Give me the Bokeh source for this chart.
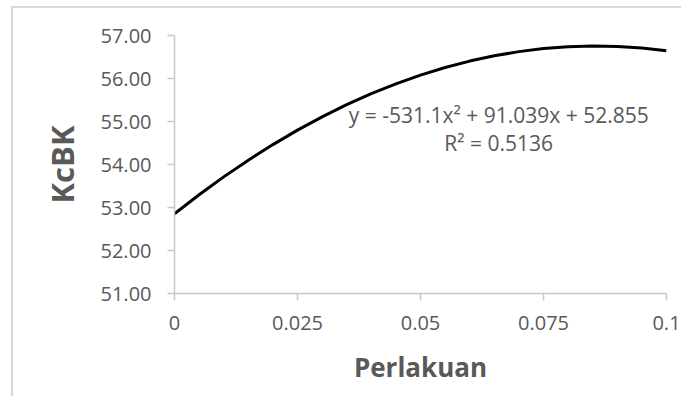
from bokeh.plotting import figure
from bokeh.models import FixedTicker, NumeralTickFormatter, Label, Range1d
from bokeh.embed import file_html
from bokeh.resources import INLINE

# Curve values (polynomial trendline)
perlakuan = [0.0, 0.005, 0.01, 0.015, 0.02, 0.025, 0.03, 0.035, 0.04, 0.045, 0.05,
             0.055, 0.06, 0.065, 0.07, 0.075, 0.08, 0.085, 0.09, 0.095, 0.1]
kcbk = [52.855, 53.297, 53.712, 54.101, 54.463, 54.799, 55.108, 55.391, 55.647, 55.876, 56.079,
        56.256, 56.405, 56.529, 56.625, 56.696, 56.739, 56.756, 56.747, 56.711, 56.648]
x_ticks = [0, 0.025, 0.05, 0.075, 0.1]
y_ticks = [51, 52, 53, 54, 55, 56, 57]
equation = "y = -531.1x\u00b2 + 91.039x + 52.855"
r_squared = "R\u00b2 = 0.5136"

FONT = "Open Sans"
GREY = "#595959"
AXIS = "#c8c8c8"

p = figure(width=670, height=390, output_backend="svg", toolbar_location=None,
           x_range=Range1d(0, 0.1), y_range=Range1d(51, 57),
           min_border_left=161, min_border_right=17, min_border_top=27, min_border_bottom=105)
p.styles = {"border-left": "2px solid #d9d9d9", "border-top": "2px solid #d9d9d9",
            "margin-left": "11px", "margin-top": "6px"}
p.outline_line_color = None
p.xgrid.visible = False
p.ygrid.visible = False
p.background_fill_color = "white"
p.border_fill_color = "white"

p.line(perlakuan, kcbk, line_color="black", line_width=3)

for ax in (p.xaxis[0], p.yaxis[0]):
    ax.axis_line_color = AXIS
    ax.axis_line_width = 1.5
    ax.major_tick_line_color = AXIS
    ax.major_tick_line_width = 1.5
    ax.major_tick_in = 0
    ax.major_tick_out = 7
    ax.minor_tick_line_color = None
    ax.major_label_text_font = FONT
    ax.major_label_text_font_size = "20px"
    ax.major_label_text_color = GREY
    ax.axis_label_text_font = FONT
    ax.axis_label_text_font_style = "bold"
    ax.axis_label_text_color = GREY

p.xaxis.ticker = FixedTicker(ticks=x_ticks)
p.xaxis.formatter = NumeralTickFormatter(format="0.[000]")
p.xaxis.major_label_standoff = 15
p.xaxis.axis_label = "Perlakuan"
p.xaxis.axis_label_text_font_size = "26px"
p.xaxis.axis_label_standoff = 16

p.yaxis.ticker = FixedTicker(ticks=y_ticks)
p.yaxis.formatter = NumeralTickFormatter(format="0.00")
p.yaxis.major_label_standoff = 16
p.yaxis.axis_label = "KcBK"
p.yaxis.axis_label_text_font_size = "31px"
p.yaxis.axis_label_standoff = 15

p.add_layout(Label(x=0.0659, y=55.14, text=equation, text_align="center", text_baseline="middle",
                   text_font=FONT, text_font_size="21px", text_color=GREY))
p.add_layout(Label(x=0.0659, y=54.49, text=r_squared, text_align="center", text_baseline="middle",
                   text_font=FONT, text_font_size="21px", text_color=GREY))

open("out.html", "w").write(file_html(p, INLINE))
